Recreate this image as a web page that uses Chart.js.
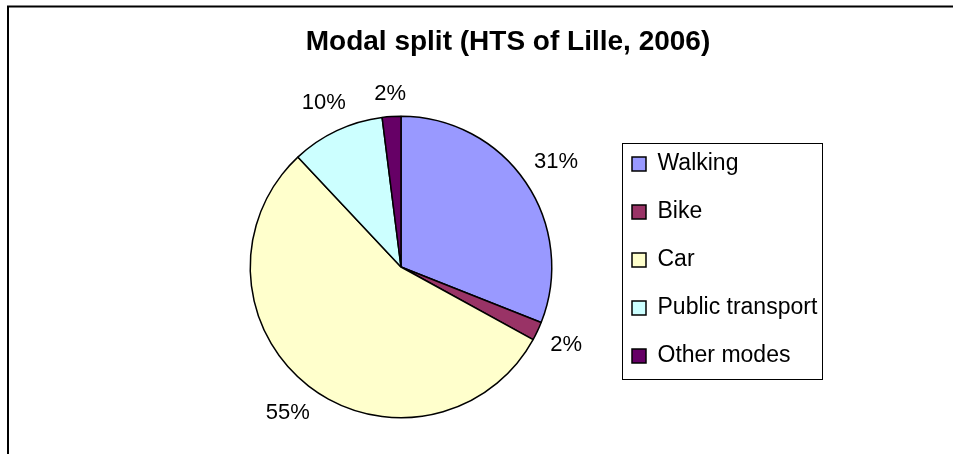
<!DOCTYPE html>
<html>
<head>
<meta charset="utf-8">
<script src="https://cdn.jsdelivr.net/npm/chart.js@4.4.0/dist/chart.umd.min.js"></script>
<style>
  html, body { margin: 0; padding: 0; background: #fff; }
  canvas { display: block; }
</style>
</head>
<body>
<canvas id="chart" width="953" height="454"></canvas>
<script>
const categories = ['Walking', 'Bike', 'Car', 'Public transport', 'Other modes'];
const shares = [31, 2, 55, 10, 2];
const colors = ['#9999FF', '#993366', '#FFFFCC', '#CCFFFF', '#660066'];
const titleText = 'Modal split (HTS of Lille, 2006)';
const FONT = '"Liberation Sans", Arial, sans-serif';

// outer frame (only its top and left edges fall inside the picture) + box round the legend
const framePlugin = {
  id: 'frame',
  beforeDraw(chart) {
    const ctx = chart.ctx;
    ctx.save();
    ctx.strokeStyle = '#000';
    ctx.lineWidth = 2;
    ctx.beginPath();
    ctx.moveTo(8, chart.height + 5);
    ctx.lineTo(8, 6.5);
    ctx.lineTo(chart.width + 5, 6.5);
    ctx.stroke();
    ctx.restore();
  },
  afterDraw(chart) {
    const lg = chart.legend;
    const boxes = lg.legendHitBoxes;
    if (!boxes || !boxes.length) return;
    const first = boxes[0];
    const last = boxes[boxes.length - 1];
    const x0 = Math.round(first.left - 10) + 0.5;
    const y0 = Math.round(first.top - 10) + 0.5;
    const x1 = Math.round(lg.right + 1) + 0.5;
    const y1 = Math.round(last.top + last.height + 11) + 0.5;
    const ctx = chart.ctx;
    ctx.save();
    ctx.strokeStyle = '#000';
    ctx.lineWidth = 1;
    ctx.strokeRect(x0, y0, x1 - x0, y1 - y0);
    ctx.restore();
  }
};

// percentage labels just outside each slice
const pctLabels = {
  id: 'pctLabels',
  afterDatasetsDraw(chart) {
    const ctx = chart.ctx;
    const meta = chart.getDatasetMeta(0);
    const data = chart.data.datasets[0].data;
    const total = data.reduce((a, b) => a + b, 0);
    ctx.save();
    ctx.font = '22px ' + FONT;
    ctx.fillStyle = '#000';
    ctx.textAlign = 'center';
    ctx.textBaseline = 'middle';
    meta.data.forEach((arc, i) => {
      const p = arc.getProps(['x', 'y', 'startAngle', 'endAngle', 'outerRadius'], true);
      const mid = (p.startAngle + p.endAngle) / 2;
      const dx = Math.cos(mid), dy = Math.sin(mid);
      const text = Math.round(data[i] / total * 100) + '%';
      const w = ctx.measureText(text).width, h = 16;
      const d = p.outerRadius + 14 + Math.abs(dx) * w / 2 + Math.abs(dy) * h / 2;
      ctx.fillText(text, p.x + dx * d, p.y + dy * d);
    });
    ctx.restore();
  }
};

new Chart(document.getElementById('chart'), {
  type: 'pie',
  data: {
    labels: categories,
    datasets: [{
      data: shares,
      backgroundColor: colors,
      borderColor: '#000',
      borderWidth: 1.5
    }]
  },
  options: {
    responsive: false,
    animation: false,
    layout: { padding: { left: 195, right: 132, top: 0, bottom: 35.5 } },
    plugins: {
      title: {
        display: true,
        text: titleText,
        color: '#000',
        font: { family: FONT, size: 28, weight: 'bold', lineHeight: 1.2 },
        padding: { top: 25.7, bottom: 56.2 }
      },
      legend: {
        position: 'right',
        align: 'start',
        fullSize: false,
        maxWidth: 214,
        title: { display: true, text: '', font: { size: 10, lineHeight: 1.2 }, padding: 0 },
        labels: {
          boxWidth: 14,
          boxHeight: 14,
          padding: 25,
          color: '#000',
          font: { family: FONT, size: 23 }
        }
      },
      tooltip: { enabled: false }
    }
  },
  plugins: [framePlugin, pctLabels]
});
</script>
</body>
</html>
